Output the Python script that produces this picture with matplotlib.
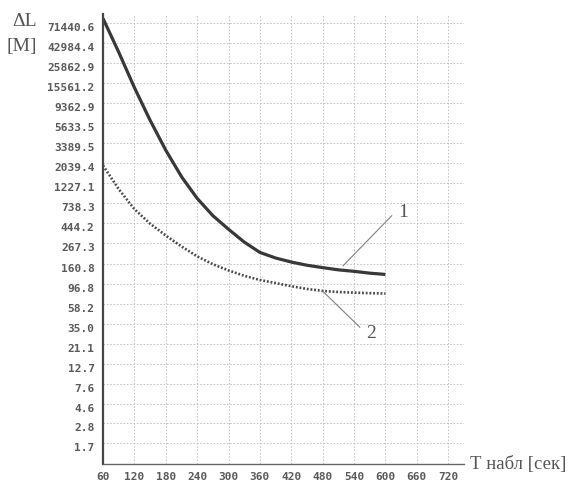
import matplotlib.pyplot as plt
import matplotlib.transforms as mtransforms
from matplotlib.ticker import NullLocator

# observation time, s
t_obs = [60, 90, 120, 150, 180, 210, 240, 270, 300, 330, 360, 390,
         420, 450, 480, 510, 540, 570, 600]
# curve 1 (solid) and curve 2 (dotted), metres
dl_1 = [80000, 34100, 13900, 6070, 2840, 1455, 838, 541, 383, 277, 213, 185,
        167, 154, 145, 137, 132, 126, 122]
dl_2 = [1930, 1059, 638, 442, 327, 248, 193, 158, 135, 118, 106, 98,
        90.6, 84.5, 80.4, 78.2, 76.9, 75.9, 75.2]

y_labels = ["71440.6", "42984.4", "25862.9", "15561.2", "9362.9", "5633.5",
            "3389.5", "2039.4", "1227.1", "738.3", "444.2", "267.3", "160.8",
            "96.8", "58.2", "35.0", "21.1", "12.7", "7.6", "4.6", "2.8", "1.7"]
y_ticks = [float(s) for s in y_labels]
x_ticks = list(range(60, 721, 60))

fig = plt.figure(figsize=(5.83, 4.82), dpi=100)
ax = fig.add_axes([0.1767, 0.0373, 0.619, 0.934])
ax.set_yscale("log")
ax.set_xlim(60, 750)
ax.set_ylim(1, 90000)

ax.grid(True, color="#bdbdbd", linestyle=(0, (2, 2)), lw=0.6)
ax.set_axisbelow(True)

ax.plot(t_obs, dl_1, color="#383838", lw=2.3, solid_capstyle="butt")
ax.plot(t_obs, dl_2, color="#4a4a4a", lw=1.9, linestyle=(0, (0.7, 0.7)))

ax.set_yticks(y_ticks, y_labels)
ax.yaxis.set_minor_locator(NullLocator())
ax.set_xticks(x_ticks, [str(v) for v in x_ticks])
ax.tick_params(length=0, labelsize=8, labelcolor="#5a5a5a", pad=6)
for lab in ax.get_yticklabels() + ax.get_xticklabels():
    lab.set_family("DejaVu Sans Mono")
    lab.set_fontweight("bold")
# labels sit slightly below their grid lines in the original
shift = mtransforms.ScaledTranslation(0, -4 / 100, fig.dpi_scale_trans)
for lab in ax.get_yticklabels():
    lab.set_transform(lab.get_transform() + shift)

for side in ["top", "right"]:
    ax.spines[side].set_visible(False)
ax.spines["left"].set_color("#444444")
ax.spines["left"].set_linewidth(1.6)
ax.spines["bottom"].set_color("#666666")
ax.spines["bottom"].set_linewidth(1.0)

# curve labels with leader lines
ax.plot([519, 612], [152, 540], color="#808080", lw=0.8)
ax.text(633, 582, "1", fontsize=14, family="Liberation Serif",
        color="#555555", ha="center", va="center")
ax.plot([480, 551], [80, 32], color="#808080", lw=0.8)
ax.text(572, 27, "2", fontsize=14, family="Liberation Serif",
        color="#555555", ha="center", va="center")

serif = "Liberation Serif"
fig.text(12 / 583, 1 - 21 / 482, "ΔL", fontsize=14, family=serif,
         color="#555555", va="center", ha="left")
fig.text(6 / 583, 1 - 47 / 482, "[М]", fontsize=14, family=serif,
         color="#555555", va="center", ha="left")
fig.text(470 / 583, 1 - 465 / 482, "Т набл [сек]", fontsize=13.5,
         family=serif, color="#555555", va="center", ha="left")

fig.savefig("out.png", dpi=100)
